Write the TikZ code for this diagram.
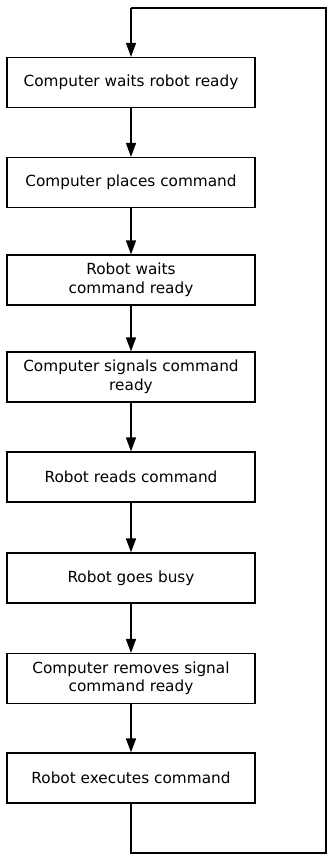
\documentclass[tikz,border=0pt]{standalone}
\usepackage{fontspec}
\setmainfont{DejaVu Sans}
\usetikzlibrary{arrows.meta}
\begin{document}
\begin{tikzpicture}[x=1pt,y=-1pt,
  stepbox/.style={draw, line width=1.3pt, minimum width=248pt, minimum height=50pt, align=center, inner sep=0pt, font=\fontsize{15.3}{18.5}\selectfont},
  flow/.style={line width=1.5pt, -{Triangle[length=14pt,width=10pt]}},
  loopline/.style={line width=1.3pt}]
\useasboundingbox (0,0) rectangle (331,859);
\node[stepbox] (b1) at (131,82.5) {Computer waits robot ready};
\node[stepbox] (b2) at (131,182.5) {Computer places command};
\node[stepbox] (b3) at (131,280) {Robot waits\\command ready};
\node[stepbox] (b4) at (131,377) {Computer signals command\\ready};
\node[stepbox] (b5) at (131,477) {Robot reads command};
\node[stepbox] (b6) at (131,578) {Robot goes busy};
\node[stepbox] (b7) at (131,678.5) {Computer removes signal\\command ready};
\node[stepbox] (b8) at (131,778) {Robot executes command};
\draw[flow] (b1) -- (b2);
\draw[flow] (b2) -- (b3);
\draw[flow] (b3) -- (b4);
\draw[flow] (b4) -- (b5);
\draw[flow] (b5) -- (b6);
\draw[flow] (b6) -- (b7);
\draw[flow] (b7) -- (b8);
\coordinate (lb) at (131,853);
\coordinate (rb) at (326,853);
\coordinate (rt) at (326,8);
\coordinate (lt) at (131,8);
\draw[loopline] (b8.south) -- (lb) -- (rb) -- (rt) -- (lt);
\draw[flow] (lt) -- (b1.north);
\end{tikzpicture}
\end{document}
